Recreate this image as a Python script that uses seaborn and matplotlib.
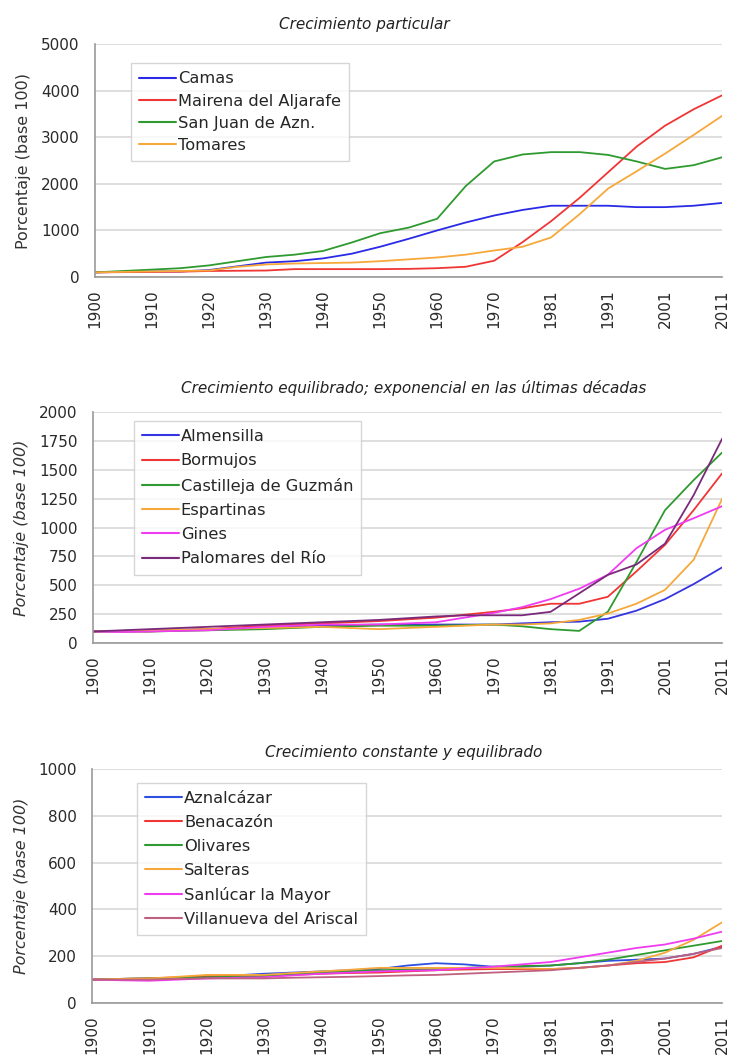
import numpy as np
import pandas as pd
import matplotlib
matplotlib.use("Agg")
import matplotlib.pyplot as plt
import seaborn as sns

# census years (ticks every other point)
years = [1900, 1905, 1910, 1915, 1920, 1925, 1930, 1935, 1940, 1945, 1950, 1955,
         1960, 1965, 1970, 1975, 1981, 1986, 1991, 1996, 2001, 2006, 2011]
tick_years = years[::2]

# Crecimiento particular
camas = [100, 110, 120, 120, 150, 230, 310, 340, 400, 500, 650, 820, 1000, 1170, 1320, 1440, 1530, 1530, 1530, 1500, 1500, 1530, 1590]
mairena = [100, 105, 110, 115, 130, 135, 140, 170, 170, 170, 170, 175, 190, 220, 350, 750, 1200, 1700, 2250, 2800, 3250, 3600, 3900]
san_juan = [100, 130, 160, 190, 250, 340, 430, 480, 560, 740, 940, 1060, 1250, 1950, 2480, 2630, 2680, 2680, 2620, 2480, 2320, 2400, 2570]
tomares = [100, 110, 120, 130, 140, 220, 270, 290, 300, 310, 340, 380, 420, 480, 570, 650, 850, 1350, 1900, 2270, 2650, 3050, 3460]

# Crecimiento equilibrado; exponencial
almensilla = [100, 105, 110, 115, 120, 125, 130, 140, 150, 155, 160, 160, 160, 160, 160, 170, 180, 185, 210, 280, 380, 510, 655]
bormujos = [100, 100, 100, 110, 120, 135, 150, 160, 170, 180, 190, 205, 220, 245, 270, 300, 340, 340, 400, 620, 850, 1150, 1470]
castilleja = [100, 100, 100, 105, 110, 115, 120, 130, 140, 145, 150, 150, 150, 155, 160, 145, 120, 105, 270, 700, 1150, 1410, 1650]
espartinas = [100, 105, 110, 115, 120, 125, 130, 135, 140, 130, 120, 130, 140, 150, 160, 160, 170, 200, 255, 340, 460, 720, 1250]
gines = [100, 95, 100, 105, 110, 125, 140, 150, 160, 160, 160, 170, 180, 220, 260, 310, 380, 470, 590, 820, 980, 1080, 1185]
palomares = [100, 110, 120, 130, 140, 150, 160, 170, 180, 190, 200, 215, 230, 240, 240, 240, 270, 430, 590, 680, 860, 1280, 1770]

# Crecimiento constante y equilibrado
aznalcazar = [100, 103, 105, 108, 110, 118, 125, 130, 135, 140, 145, 160, 170, 165, 155, 155, 160, 170, 180, 185, 190, 210, 240]
benacazon = [100, 103, 105, 110, 115, 115, 115, 120, 125, 128, 130, 135, 140, 143, 145, 145, 145, 150, 160, 170, 175, 195, 245]
olivares = [100, 103, 105, 108, 110, 112, 115, 122, 130, 135, 140, 143, 145, 150, 155, 158, 160, 170, 185, 205, 225, 245, 265]
salteras = [100, 103, 105, 112, 120, 120, 120, 128, 135, 142, 150, 150, 150, 150, 150, 148, 145, 150, 160, 180, 215, 270, 345]
sanlucar = [100, 97, 95, 100, 105, 108, 110, 118, 125, 130, 135, 138, 140, 148, 155, 165, 175, 195, 215, 235, 250, 275, 305]
villanueva = [100, 100, 100, 103, 105, 105, 105, 108, 110, 112, 115, 118, 120, 125, 130, 135, 140, 150, 160, 175, 190, 210, 235]

panels = [
    dict(title="Crecimiento particular", title_x=0.43, title_pad=11, ymax=5000, ystep=1000, italic_ylabel=False,
         rect=[0.130, 0.7374, 0.858, 0.2209],
         series={"Camas": camas, "Mairena del Aljarafe": mairena,
                 "San Juan de Azn.": san_juan, "Tomares": tomares},
         colors=["#2a2ae6", "#f03535", "#2f9a2f", "#f7a83a"],
         legend_bbox=(0.057, 0.918), spacing=0.45),
    dict(title="Crecimiento equilibrado; exponencial en las últimas décadas", title_x=0.51, title_pad=14,
         ymax=2000, ystep=250, italic_ylabel=True, rect=[0.127, 0.3905, 0.861, 0.219],
         series={"Almensilla": almensilla, "Bormujos": bormujos, "Castilleja de Guzmán": castilleja,
                 "Espartinas": espartinas, "Gines": gines, "Palomares del Río": palomares},
         colors=["#3434e0", "#f03535", "#2f9a2f", "#f7a83a", "#f03cf0", "#7a2a7a"],
         legend_bbox=(0.065, 0.961), spacing=0.57),
    dict(title="Crecimiento constante y equilibrado", title_x=0.495, title_pad=8.5,
         ymax=1000, ystep=200, italic_ylabel=True, rect=[0.126, 0.0493, 0.862, 0.2218],
         series={"Aznalcázar": aznalcazar, "Benacazón": benacazon, "Olivares": olivares,
                 "Salteras": salteras, "Sanlúcar la Mayor": sanlucar, "Villanueva del Ariscal": villanueva},
         colors=["#2f4fe0", "#f03535", "#2f9a2f", "#f7a83a", "#f03cf0", "#c0607f"],
         legend_bbox=(0.071, 0.94), spacing=0.55),
]

sns.set_style("white")
plt.rcParams["font.family"] = ["DejaVu Sans"]

fig = plt.figure(figsize=(7.31, 10.55), dpi=100)
pos = np.arange(len(years)) / 2.0

for p in panels:
    ax = fig.add_axes(p["rect"])
    frames = []
    for name, vals in p["series"].items():
        frames.append(pd.DataFrame({"x": pos, "y": vals, "serie": name}))
    df = pd.concat(frames, ignore_index=True)
    palette = dict(zip(p["series"].keys(), p["colors"]))
    sns.lineplot(data=df, x="x", y="y", hue="serie", palette=palette, linewidth=1.3, ax=ax, sort=False)

    ax.set_xlim(0, pos[-1])
    ax.set_ylim(0, p["ymax"])
    ax.set_yticks(np.arange(0, p["ymax"] + 1, p["ystep"]))
    ax.set_xticks(pos[::2])
    ax.set_xticklabels([str(y) for y in tick_years], rotation=90)
    ax.tick_params(axis="both", labelsize=11, length=4, width=1, direction="out",
                   colors="#999999", labelcolor="#2a2a2a")
    ax.tick_params(axis="y", pad=7)
    ax.tick_params(axis="x", pad=5)
    ax.grid(axis="y", color="#d8d8d8", linewidth=1.2)
    ax.set_axisbelow(True)
    for s in ["top", "right"]:
        ax.spines[s].set_visible(False)
    for s in ["left", "bottom"]:
        ax.spines[s].set_color("#999999")
        ax.spines[s].set_linewidth(1.2)
    ax.set_xlabel("")
    ax.set_ylabel("Porcentaje (base 100)", fontsize=11.5, color="#333333",
                  style="italic" if p["italic_ylabel"] else "normal", labelpad=7)
    ax.set_title(p["title"], fontsize=11, style="italic", color="#222222",
                 x=p["title_x"], pad=p["title_pad"])

    leg = ax.legend(loc="upper left", bbox_to_anchor=p["legend_bbox"], fontsize=11.7, frameon=True,
                    fancybox=False, handlelength=2.3, handletextpad=0.1, borderpad=0.5,
                    labelspacing=p["spacing"], borderaxespad=0)
    leg.get_frame().set_edgecolor("#cccccc")
    leg.get_frame().set_linewidth(1.0)
    for line in leg.get_lines():
        line.set_linewidth(1.5)

fig.savefig("out.png", dpi=100)
